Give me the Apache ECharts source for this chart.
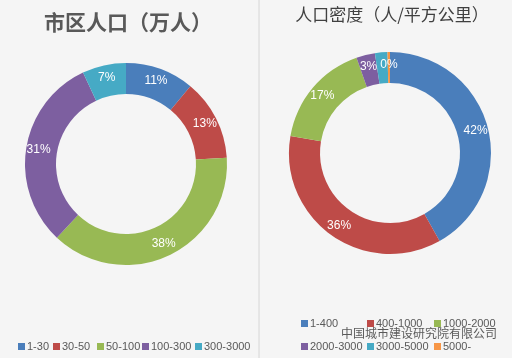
<!DOCTYPE html>
<html><head><meta charset="utf-8">
<script src="https://cdn.jsdelivr.net/npm/echarts@6/dist/echarts.min.js"></script>
<style>html,body{margin:0;padding:0;background:#f5f5f5}#c{width:512px;height:358px}</style>
</head><body><div id="c"></div>
<script>
const leftTitle = '市区人口（万人）';
const leftCats = ['1-30','30-50','50-100','100-300','300-3000'];
const leftVals = [11,13,38,31,7];
const rightTitle = '人口密度（人/平方公里）';
const rightCats = ['1-400','400-1000','1000-2000','2000-3000','3000-5000','5000-'];
const rightVals = [42,36,17,3,2,0.4];
const colors = ['#4a7ebb','#be4b48','#98b954','#7d5fa0','#46aac5','#f79646'];

const chart = echarts.init(document.getElementById('c'));
const legends = [];
const leftPos = [13,48,92,137,190];
const legText = {fontSize:11,color:'#595959',fontFamily:'Liberation Sans',padding:[0,0,0,-3]};
leftCats.forEach((c,i)=>legends.push({data:[c],left:leftPos[i],top:336,icon:'rect',itemWidth:7,itemHeight:7,itemGap:0,textStyle:legText}));
const rightPos = [[296,313],[362,313],[429,313],[296,336],[362,336],[429,336]];
rightCats.forEach((c,i)=>legends.push({data:[c],left:rightPos[i][0],top:rightPos[i][1],icon:'rect',itemWidth:7,itemHeight:7,itemGap:0,textStyle:legText}));

function pieSeries(cats, vals, center){
  return {type:'pie',center:center,radius:[70,101],startAngle:90,clockwise:true,avoidLabelOverlap:false,
    silent:true,
    label:{show:true,position:'inside',color:'#fff',fontSize:12,fontFamily:'Liberation Sans',
      formatter:p=>Math.round(p.value)+'%'},
    labelLine:{show:false},
    itemStyle:{borderWidth:0},
    data:cats.map((c,i)=>({name:c,value:vals[i],itemStyle:{color:colors[i]}}))};
}

chart.setOption({
  backgroundColor:'#f5f5f5',
  animation:false,
  color:colors,
  title:[
    {text:leftTitle,left:123,top:7,textAlign:'center',
     textStyle:{fontSize:21,fontWeight:'bold',color:'#595959',fontFamily:'Noto Sans CJK SC'}},
    {text:rightTitle,left:387,top:1,textAlign:'center',
     textStyle:{fontSize:17,fontWeight:'normal',color:'#404040',fontFamily:'Noto Sans CJK SC'}}
  ],
  legend:legends,
  graphic:[
    {type:'line',shape:{x1:259,y1:0,x2:259,y2:358},style:{stroke:'#d6d6d6',lineWidth:1}},
    {type:'text',left:341,top:327,style:{text:'中国城市建设研究院有限公司',fontSize:12,fill:'rgba(50,50,50,0.8)',fontFamily:'Noto Sans CJK SC'}}
  ],
  series:[pieSeries(leftCats,leftVals,[126,164]), pieSeries(rightCats,rightVals,[390,153])]
});
</script></body></html>
